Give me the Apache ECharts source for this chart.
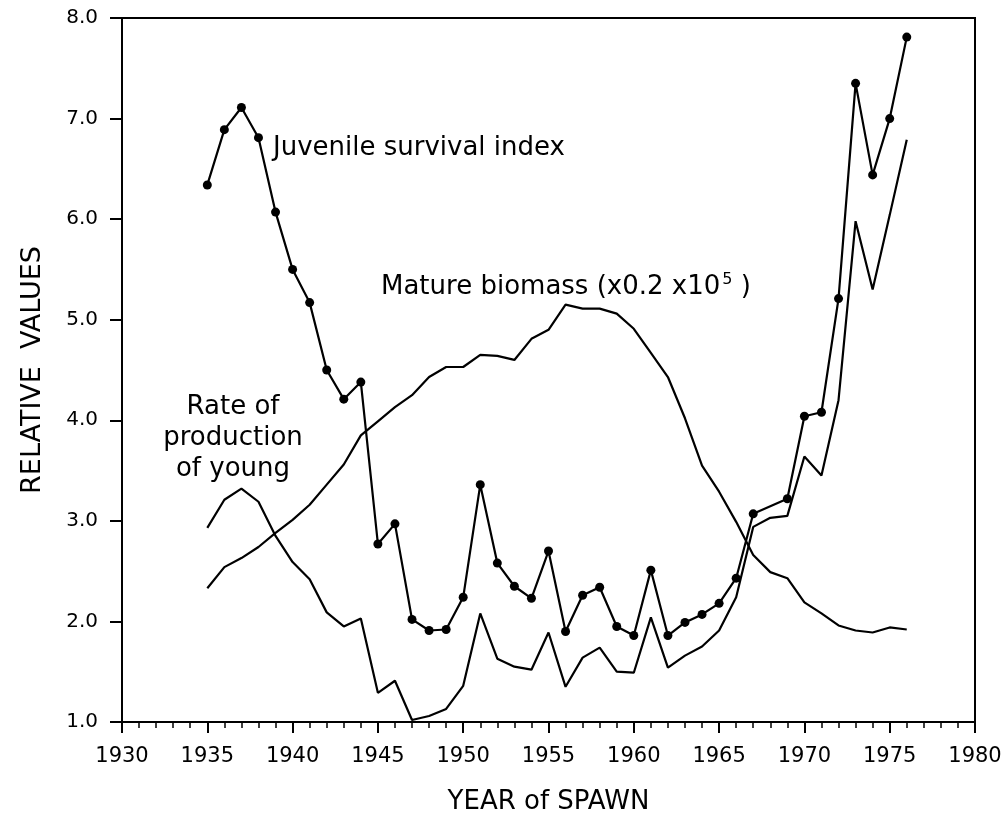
<!DOCTYPE html>
<html>
<head>
<meta charset="utf-8">
<script src="https://cdn.jsdelivr.net/npm/echarts@6/dist/echarts.min.js"></script>
<style>
html,body{margin:0;padding:0;background:#fff;}
#chart{width:1008px;height:817px;}
</style>
</head>
<body>
<div id="chart"></div>
<script>
// Year of spawn
const years = [1935,1936,1937,1938,1939,1940,1941,1942,1943,1944,1945,1946,1947,1948,1949,1950,1951,1952,1953,1954,1955,1956,1957,1958,1959,1960,1961,1962,1963,1964,1965,1966,1967,1968,1969,1970,1971,1972,1973,1974,1975,1976];
// Juvenile survival index (dotted line); 1968 not plotted
const juvenile = [6.34,6.89,7.11,6.81,6.07,5.50,5.17,4.50,4.21,4.38,2.77,2.97,2.02,1.91,1.92,2.24,3.36,2.58,2.35,2.23,2.70,1.90,2.26,2.34,1.95,1.86,2.51,1.86,1.99,2.07,2.18,2.43,3.07,null,3.22,4.04,4.08,5.21,7.35,6.44,7.00,7.81];
// Rate of production of young
const rateYoung = [2.93,3.21,3.32,3.19,2.85,2.59,2.42,2.09,1.95,2.03,1.29,1.41,1.02,1.06,1.13,1.36,2.08,1.63,1.55,1.52,1.89,1.35,1.64,1.74,1.50,1.49,2.04,1.54,1.66,1.75,1.91,2.24,2.94,3.03,3.05,3.64,3.45,4.20,5.98,5.30,6.04,6.79];
// Mature biomass (x0.2 x10^5)
const biomass = [2.33,2.54,2.63,2.74,2.88,3.01,3.16,3.36,3.56,3.85,3.99,4.13,4.25,4.43,4.53,4.53,4.65,4.64,4.60,4.81,4.90,5.15,5.11,5.11,5.06,4.91,4.67,4.43,4.02,3.55,3.29,2.99,2.66,2.49,2.43,2.19,2.08,1.96,1.91,1.89,1.94,1.92];

const xTicks = {min: 1930, max: 1980, interval: 5};
const yTicks = {min: 1, max: 8, interval: 1};

const FONT = '"DejaVu Sans", "Liberation Sans", sans-serif';

function pairs(vals){ return years.map((y,i)=>[y, vals[i]]); }

function label(text, x, y, extra){
  return Object.assign({type: 'text', x: x, y: y, style: Object.assign({
    text: text, fontSize: 26, fontFamily: FONT, fill: '#000',
    align: 'left', verticalAlign: 'middle', textAlign: 'left', textVerticalAlign: 'middle'
  }, extra || {})});
}

const chart = echarts.init(document.getElementById('chart'), null, {renderer:'canvas'});
chart.setOption({
  animation: false,
  backgroundColor: '#ffffff',
  grid: {left: 122, right: 33, top: 18, bottom: 95, containLabel: false, outerBoundsMode: 'none',
         show: true, borderColor: '#000', borderWidth: 2, backgroundColor: 'transparent'},
  xAxis: {
    type: 'value', min: xTicks.min, max: xTicks.max, interval: xTicks.interval,
    name: 'YEAR of SPAWN', nameLocation: 'middle', nameGap: 67,
    nameTextStyle: {fontFamily: FONT, fontSize: 26, color: '#000'},
    axisLine: {show: true, lineStyle: {color: '#000', width: 2}},
    axisTick: {show: true, inside: false, length: 11, lineStyle: {color: '#000', width: 2}},
    minorTick: {show: true, splitNumber: 5, length: 6, lineStyle: {color: '#000', width: 1.5}},
    axisLabel: {fontFamily: FONT, fontSize: 21, color: '#000', margin: 24, formatter: v => String(v)},
    splitLine: {show: false}
  },
  yAxis: {
    type: 'value', min: yTicks.min, max: yTicks.max, interval: yTicks.interval,
    name: 'RELATIVE  VALUES', nameLocation: 'middle', nameGap: 76, nameRotate: 90,
    nameTextStyle: {fontFamily: FONT, fontSize: 27, color: '#000'},
    axisLine: {show: true, lineStyle: {color: '#000', width: 2}},
    axisTick: {show: true, inside: false, length: 12, lineStyle: {color: '#000', width: 2}},
    axisLabel: {fontFamily: FONT, fontSize: 20, color: '#000', margin: 24, formatter: v => v.toFixed(1)},
    splitLine: {show: false}
  },
  series: [
    {name: 'Juvenile survival index', type: 'line', data: pairs(juvenile), connectNulls: true,
     symbol: 'circle', symbolSize: 9, showAllSymbol: true,
     itemStyle: {color: '#000'}, lineStyle: {color: '#000', width: 2.2}},
    {name: 'Rate of production of young', type: 'line', data: pairs(rateYoung),
     symbol: 'none', lineStyle: {color: '#000', width: 2.2}},
    {name: 'Mature biomass', type: 'line', data: pairs(biomass),
     symbol: 'none', lineStyle: {color: '#000', width: 2.2}}
  ],
  graphic: [
    label('Juvenile survival index', 273, 148),
    label('Mature biomass (x0.2 x10{sup|5} )', 381, 287, {rich: {sup: {fontSize: 16, fontFamily: FONT, padding: [0,0,14,2]}}}),
    label('Rate of', 233, 407, {align: 'center', textAlign: 'center'}),
    label('production', 233, 438, {align: 'center', textAlign: 'center'}),
    label('of young', 233, 469, {align: 'center', textAlign: 'center'})
  ]
});
</script>
</body>
</html>
